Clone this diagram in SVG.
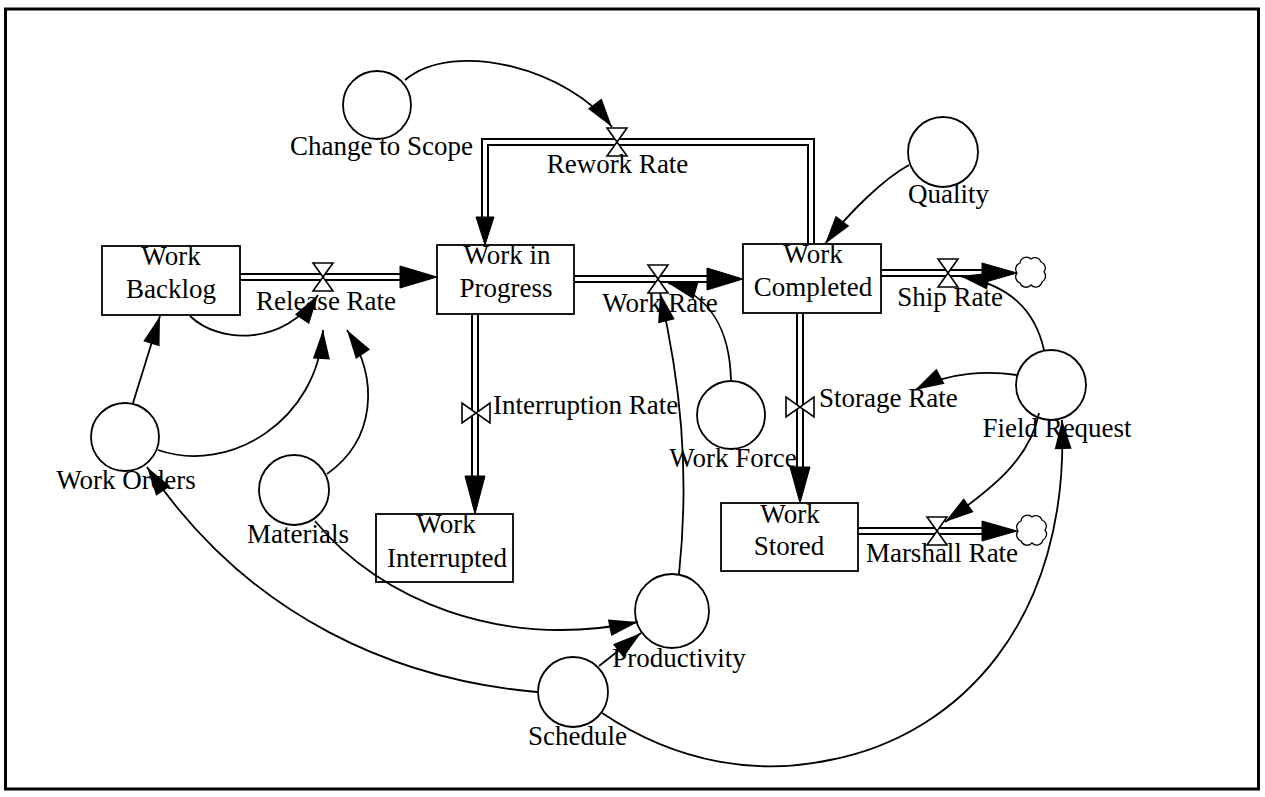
<svg xmlns="http://www.w3.org/2000/svg" width="1265" height="797" viewBox="0 0 1265 797">
<style>
text{font-family:"Liberation Serif","Times New Roman",serif;font-size:27px;fill:#000}
.c{text-anchor:middle}
.stock{fill:#fff;stroke:#000;stroke-width:1.8}
.aux{fill:#fff;stroke:#000;stroke-width:1.8}
.pipeo{fill:none;stroke:#000;stroke-width:8;stroke-linejoin:miter}
.pipei{fill:none;stroke:#fff;stroke-width:4;stroke-linejoin:miter}
.head{fill:#000;stroke:#000;stroke-width:1}
.valve{fill:#fff;stroke:#000;stroke-width:1.6;stroke-linejoin:miter}
.cloud{fill:#fff;stroke:#000;stroke-width:1.3}
.link{fill:none;stroke:#000;stroke-width:1.8;marker-end:url(#arr)}
</style>
<defs>
<marker id="arr" markerUnits="userSpaceOnUse" orient="auto" markerWidth="32" markerHeight="18" refX="29" refY="8.5" overflow="visible">
<path d="M0,0 L29,8.5 L0,17 Z" fill="#000"/>
</marker>
<path id="valve" class="valve" d="M-10,-14 L10,-14 L-10,14 L10,14 Z"/>
<path id="cloud" class="cloud" d="M-11,-9 a6.5,6.5 0 0 1 11,-4 a6.5,6.5 0 0 1 10,3 a6.5,6.5 0 0 1 3,10 a6.5,6.5 0 0 1 -2,10 a6.5,6.5 0 0 1 -11,3 a6.5,6.5 0 0 1 -11,-2 a6.5,6.5 0 0 1 -3,-10 a6.5,6.5 0 0 1 3,-10 z"/>
</defs>
<rect x="0" y="0" width="1265" height="797" fill="#fff"/>
<rect x="5.5" y="9" width="1253" height="780" fill="none" stroke="#000" stroke-width="3"/>

<g id="flows">
<path class="pipeo" d="M240,277 H401"/><path class="pipei" d="M240,277 H401"/>
<polygon class="head" points="400,266 437,277 400,288"/>
<path class="pipeo" d="M574,279 H708"/><path class="pipei" d="M574,279 H708"/>
<polygon class="head" points="707,268 743,279 707,290"/>
<path class="pipeo" d="M881,273 H983"/><path class="pipei" d="M881,273 H983"/>
<polygon class="head" points="982,263 1017,273 982,283"/>
<path class="pipeo" d="M858,531 H983"/><path class="pipei" d="M858,531 H983"/>
<polygon class="head" points="982,521 1017,531 982,541"/>
<path class="pipeo" d="M475,314 V477"/><path class="pipei" d="M475,314 V477"/>
<polygon class="head" points="465,476 475,514 485,476"/>
<path class="pipeo" d="M800,313 V468"/><path class="pipei" d="M800,313 V468"/>
<polygon class="head" points="790,467 800,503 810,467"/>
<path class="pipeo" d="M811,244 V142 H485 V218"/><path class="pipei" d="M811,244 V142 H485 V218"/>
<polygon class="head" points="476,217 485,245 494,217"/>
</g>

<g id="work-backlog"><rect class="stock" x="102" y="246" width="138" height="69"/><text class="c" x="171" y="265">Work</text><text class="c" x="171" y="298">Backlog</text></g>
<g id="work-in-progress"><rect class="stock" x="437" y="245" width="137" height="69"/><text class="c" x="507" y="264">Work in</text><text class="c" x="506" y="297">Progress</text></g>
<g id="work-completed"><rect class="stock" x="743" y="244" width="138" height="69"/><text class="c" x="813" y="263">Work</text><text class="c" x="813" y="296">Completed</text></g>
<g id="work-interrupted"><rect class="stock" x="376" y="514" width="137" height="68"/><text class="c" x="446" y="533">Work</text><text class="c" x="447" y="567">Interrupted</text></g>
<g id="work-stored"><rect class="stock" x="721" y="503" width="137" height="68"/><text class="c" x="790" y="523">Work</text><text class="c" x="789" y="555">Stored</text></g>

<g id="release-rate"><use href="#valve" x="323" y="277"/><text class="c" x="326" y="310">Release Rate</text></g>
<g id="work-rate"><use href="#valve" x="658" y="279"/><text class="c" x="660" y="312">Work Rate</text></g>
<g id="ship-rate"><use href="#valve" x="948" y="273"/><text class="c" x="950" y="306">Ship Rate</text></g>
<g id="marshall-rate"><use href="#valve" x="937" y="531"/><text class="c" x="942" y="562">Marshall Rate</text></g>
<g id="interruption-rate"><use href="#valve" transform="translate(476,413) rotate(90)"/><text x="493" y="414">Interruption Rate</text></g>
<g id="storage-rate"><use href="#valve" transform="translate(800,407) rotate(90)"/><text x="819" y="407">Storage Rate</text></g>
<g id="rework-rate"><use href="#valve" x="617" y="142"/><text class="c" x="617.5" y="173">Rework Rate</text></g>

<g id="ship-sink"><use href="#cloud" x="1031" y="272"/></g>
<g id="marshall-sink"><use href="#cloud" x="1032" y="530"/></g>

<g id="change-to-scope"><circle class="aux" cx="377" cy="105" r="34"/><text class="c" x="381.5" y="155">Change to Scope</text></g>
<g id="quality"><circle class="aux" cx="943" cy="152" r="35"/><text class="c" x="948.5" y="203">Quality</text></g>
<g id="work-orders"><circle class="aux" cx="125" cy="437" r="34"/><text class="c" x="126" y="489">Work Orders</text></g>
<g id="materials"><circle class="aux" cx="294" cy="490" r="35"/><text class="c" x="298" y="543">Materials</text></g>
<g id="productivity"><circle class="aux" cx="672" cy="611" r="37"/><text class="c" x="679" y="667">Productivity</text></g>
<g id="schedule"><circle class="aux" cx="573" cy="692" r="35"/><text class="c" x="577.5" y="745">Schedule</text></g>
<g id="work-force"><circle class="aux" cx="731" cy="415" r="34"/><text class="c" x="733" y="467">Work Force</text></g>
<g id="field-request"><circle class="aux" cx="1051" cy="385" r="35"/><text class="c" x="1057" y="437">Field Request</text></g>

<g id="links">
<path class="link" d="M405,80 C455,38 570,70 612,127"/>
<path class="link" d="M909,165 C885,178 850,211 825,244"/>
<path class="link" d="M190,316 C220,345 285,345 318,295"/>
<path class="link" d="M133,403 L160,316"/>
<path class="link" d="M158,450 C230,475 318,420 323,330"/>
<path class="link" d="M327,474 C375,440 380,380 347,330"/>
<path class="link" d="M731,381 C730,330 710,295 668,283"/>
<path class="link" d="M679,574 C690,470 680,380 660,293"/>
<path class="link" d="M1044,350 C1035,310 1010,285 960,276"/>
<path class="link" d="M1017,375 C990,371 950,371 915,390"/>
<path class="link" d="M1039,413 C1030,460 990,490 945,522"/>
<path class="link" d="M602,713 C680,765 760,775 830,760 C960,735 1070,620 1062,420"/>
<path class="link" d="M537,692 C400,680 250,620 147,467"/>
<path class="link" d="M315,521 C380,600 500,650 638,622"/>
<path class="link" d="M599,666 L641,633"/>
</g>
</svg>
